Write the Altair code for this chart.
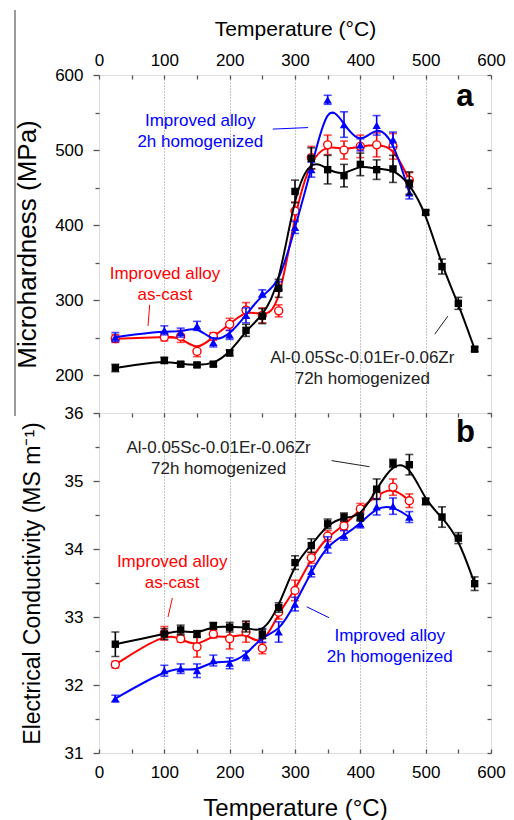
import altair as alt
import pandas as pd

FONT = "Liberation Sans"

# ---------------- data ----------------
T_imp = [25, 100, 125, 150, 175, 200, 225, 250, 275, 300, 325, 350, 375, 400, 425, 450, 475]
T_ref = T_imp + [500, 525, 550, 575]

# Microhardness (MPa)
hv_ref = [210, 220, 215, 214, 215, 230, 260, 279, 316, 445, 489, 474, 466, 481, 474, 475, 456, 417, 345, 296, 235]
hv_ref_err = [5, 4, 3, 3, 3, 4, 8, 10, 12, 15, 14, 19, 15, 15, 13, 18, 15, 3, 10, 8, 3]
hv_cast = [249, 251, 252, 232, 252, 268, 287, 280, 286, 419, 490, 507, 500, 505, 507, 505, 460]
hv_cast_err = [5, 5, 8, 7, 5, 8, 10, 10, 8, 12, 15, 13, 12, 15, 16, 17, 10]
hv_hom = [251, 260, 257, 266, 244, 254, 280, 309, 319, 397, 474, 567, 534, 507, 533, 514, 443]
hv_hom_err = [6, 6, 6, 6, 6, 6, 10, 5, 6, 8, 10, 6, 17, 8, 13, 10, 8]

# Electrical conductivity (MS/m)
ec_ref = [32.60, 32.75, 32.81, 32.75, 32.87, 32.85, 32.86, 32.75, 33.14, 33.80, 34.05, 34.37, 34.47, 34.47,
          34.88, 35.26, 35.24, 34.70, 34.47, 34.16, 33.49]
ec_ref_err = [0.18, 0.08, 0.07, 0.05, 0.05, 0.07, 0.08, 0.07, 0.07, 0.10, 0.10, 0.07, 0.06, 0.06,
              0.15, 0.06, 0.15, 0.05, 0.15, 0.08, 0.10]
ec_cast = [32.30, 32.76, 32.68, 32.56, 32.75, 32.68, 32.78, 32.54, 33.07, 33.39, 33.87, 34.19, 34.34, 34.59,
           34.79, 34.91, 34.71]
ec_cast_err = [0.05, 0.10, 0.05, 0.15, 0.06, 0.15, 0.15, 0.08, 0.10, 0.15, 0.08, 0.08, 0.06, 0.08, 0.06, 0.12, 0.10]
ec_hom = [31.80, 32.21, 32.24, 32.21, 32.36, 32.32, 32.43, 32.73, 32.78, 33.19, 33.67, 34.06, 34.20, 34.37,
          34.62, 34.63, 34.47]
ec_hom_err = [0.05, 0.08, 0.07, 0.10, 0.08, 0.08, 0.07, 0.10, 0.15, 0.10, 0.08, 0.12, 0.07, 0.06, 0.12, 0.12, 0.08]

x_ticks = [0, 50, 100, 150, 200, 250, 300, 350, 400, 450, 500, 550, 600]
hv_ticks = [200, 250, 300, 350, 400, 450, 500, 550, 600]
ec_ticks = [31, 31.5, 32, 32.5, 33, 33.5, 34, 34.5, 35, 35.5, 36]

lab_ref = "Al-0.05Sc-0.01Er-0.06Zr\n72h homogenized"
lab_cast = "Improved alloy\nas-cast"
lab_hom = "Improved alloy\n2h homogenized"

# annotation anchors (data units): label centre x, y ; leader x, x2, y, y2
top_ann = {
    "hom": (155, 539, 266, 320, 528, 530),
    "cast": (101, 335, 77.6, 75, 294, 266),
    "ref": (403, 223, 514, 534, 255, 279),
}
bot_ann = {
    "ref": (183, 35.48, 356, 414, 35.30, 35.21),
    "cast": (112, 33.81, 112.3, 105.6, 33.28, 33.0),
    "hom": (445, 32.72, 318, 352, 33.15, 32.99),
}
panel_letter_top = (560, 571, "a")
panel_letter_bot = (561, 35.70, "b")

# ---------------- styling ----------------
W = 392
H_TOP = 338
H_BOT = 340
XS = alt.Scale(domain=[0, 600], nice=False, zero=False)
YS_TOP = alt.Scale(domain=[150, 600], nice=False, zero=False)
YS_BOT = alt.Scale(domain=[31, 36], nice=False, zero=False)

RED, BLUE, BLACK = "#ff0000", "#0000ff", "#000000"
GRID_OPA = {"condition": {"test": "datum.value % 100 === 0 && datum.value > 0 && datum.value < 600", "value": 1}, "value": 0}


def x_main(orient, title, title_size, label_pad, title_pad):
    return alt.Axis(orient=orient, values=x_ticks, labelExpr="datum.value % 100 === 0 ? datum.label : ''",
                    ticks=False, domain=False, grid=True, gridDash=[1, 2], gridColor="#8c8c8c",
                    gridOpacity=GRID_OPA, labelPadding=label_pad, labelFlush=False, labelOverlap=False,
                    labelFont=FONT, labelFontSize=17, labelColor="black",
                    title=title, titleFont=FONT, titleFontSize=title_size, titleFontWeight="normal",
                    titleColor="black", titlePadding=title_pad)


def y_main(values, test, title, title_size, label_expr, title_pad):
    return alt.Axis(orient="left", values=values, labelExpr=label_expr,
                    tickSize={"condition": {"test": test, "value": 6}, "value": 4},
                    tickColor="#555555", tickWidth=1.3, domain=False, grid=False,
                    labelPadding=10, labelOverlap=False, labelFont=FONT, labelFontSize=17, labelColor="black",
                    title=title, titleFont=FONT, titleFontSize=title_size, titleFontWeight="normal",
                    titleColor="black", titlePadding=title_pad)


def mirror(orient, values):
    return alt.Axis(orient=orient, values=values, offset=-4, tickSize=4, tickColor="#555555", tickWidth=1.3,
                    labels=False, domain=False, grid=False, title=None)


def series_layers(T, v, e, kind, ys, xaxes, yaxes):
    df = pd.DataFrame({"T": T, "v": v, "lo": [a - b for a, b in zip(v, e)], "hi": [a + b for a, b in zip(v, e)]})
    base = alt.Chart(df)
    color = {"ref": BLACK, "cast": RED, "hom": BLUE}[kind]
    ax = lambda i, lst: lst[i] if i < len(lst) else None
    line = base.mark_line(interpolate="basis", color=color, strokeWidth=2).encode(
        x=alt.X("T:Q", scale=XS, axis=ax(0, xaxes)), y=alt.Y("v:Q", scale=ys, axis=ax(0, yaxes)))
    rule = base.mark_rule(color=color, strokeWidth=1.6).encode(
        x=alt.X("T:Q", scale=XS, axis=ax(1, xaxes)), y=alt.Y("lo:Q", scale=ys, axis=ax(1, yaxes)), y2="hi:Q")
    cap1 = base.mark_tick(color=color, orient="horizontal", size=8, thickness=1.6).encode(
        x=alt.X("T:Q", scale=XS, axis=ax(2, xaxes)), y=alt.Y("lo:Q", scale=ys, axis=ax(2, yaxes)))
    cap2 = base.mark_tick(color=color, orient="horizontal", size=8, thickness=1.6).encode(
        x=alt.X("T:Q", scale=XS, axis=None), y=alt.Y("hi:Q", scale=ys, axis=None))
    if kind == "ref":
        pt = base.mark_square(size=55, color=BLACK, opacity=1)
    elif kind == "cast":
        pt = base.mark_point(shape="circle", size=64, filled=False, stroke=RED, fill="white",
                             fillOpacity=1, strokeWidth=1.4, opacity=1)
    else:
        pt = base.mark_point(shape="triangle-up", size=70, filled=True, color=BLUE, opacity=1)
    pt = pt.encode(x=alt.X("T:Q", scale=XS, axis=None), y=alt.Y("v:Q", scale=ys, axis=None))
    return [line, rule, cap1, cap2, pt]


def ann_layers(ann, ys, labels):
    layers = []
    colors = {"ref": "#222222", "cast": RED, "hom": BLUE}
    for key, (cx, cy, lx1, lx2, ly1, ly2) in ann.items():
        col = colors[key]
        tdf = pd.DataFrame({"x": [cx], "y": [cy], "t": [labels[key]]})
        layers.append(alt.Chart(tdf).mark_text(font=FONT, fontSize=17, color=col, align="center",
                                               baseline="middle", lineBreak="\n", lineHeight=21).encode(
            x=alt.X("x:Q", scale=XS, axis=None), y=alt.Y("y:Q", scale=ys, axis=None), text="t:N"))
        ldf = pd.DataFrame({"x": [lx1], "x2": [lx2], "y": [ly1], "y2": [ly2]})
        layers.append(alt.Chart(ldf).mark_rule(color=col, strokeWidth=1).encode(
            x=alt.X("x:Q", scale=XS, axis=None), x2="x2:Q",
            y=alt.Y("y:Q", scale=ys, axis=None), y2="y2:Q"))
    return layers


def letter_layer(pos, ys):
    df = pd.DataFrame({"x": [pos[0]], "y": [pos[1]], "t": [pos[2]]})
    return alt.Chart(df).mark_text(font=FONT, fontSize=31, fontWeight="bold", color="black",
                                   align="center", baseline="middle").encode(
        x=alt.X("x:Q", scale=XS, axis=None), y=alt.Y("y:Q", scale=ys, axis=None), text="t:N")


labels = {"ref": lab_ref, "cast": lab_cast, "hom": lab_hom}

# ---------------- top panel ----------------
top_layers = []
top_layers += series_layers(T_imp, hv_cast, hv_cast_err, "cast", YS_TOP,
                            [x_main("top", "Temperature (°C)", 21, 6, 12), mirror("top", x_ticks)],
                            [y_main(hv_ticks, "datum.value % 100 === 0", "Microhardness (MPa)", 26,
                                    "datum.value % 100 === 0 ? datum.label : ''", 14),
                             mirror("right", hv_ticks)])
top_layers += series_layers(T_imp, hv_hom, hv_hom_err, "hom", YS_TOP, [], [])
top_layers += series_layers(T_ref, hv_ref, hv_ref_err, "ref", YS_TOP, [], [])
top_layers += ann_layers(top_ann, YS_TOP, labels)
top_layers.append(letter_layer(panel_letter_top, YS_TOP))
edge = alt.Chart(pd.DataFrame({"d": [0]})).mark_rule(color="#7a7a7a", strokeWidth=1.5).encode(
    x=alt.value(-84), y=alt.value(-65), y2=alt.value(341))
top_layers.append(edge)

top = alt.layer(*top_layers).properties(width=W, height=H_TOP).resolve_axis(x="independent", y="independent")

# ---------------- bottom panel ----------------
bot_layers = []
bot_layers += series_layers(T_imp, ec_cast, ec_cast_err, "cast", YS_BOT,
                            [x_main("bottom", "Temperature (°C)", 24, 11, 16), mirror("bottom", x_ticks),
                             mirror("top", x_ticks)],
                            [y_main(ec_ticks, "datum.value % 1 === 0", "Electrical Conductivity (MS m⁻¹)", 23,
                                    "datum.value % 1 === 0 ? format(datum.value, 'd') : ''", 20),
                             mirror("right", ec_ticks)])
bot_layers += series_layers(T_imp, ec_hom, ec_hom_err, "hom", YS_BOT, [], [])
bot_layers += series_layers(T_ref, ec_ref, ec_ref_err, "ref", YS_BOT, [], [])
bot_layers += ann_layers(bot_ann, YS_BOT, labels)
bot_layers.append(letter_layer(panel_letter_bot, YS_BOT))

bot = alt.layer(*bot_layers).properties(width=W, height=H_BOT).resolve_axis(x="independent", y="independent")

chart = alt.vconcat(top, bot, spacing=0, bounds="flush").resolve_scale(
    x="independent", y="independent").resolve_axis(x="independent", y="independent").properties(
    padding={"left": 13, "top": 8, "right": 5, "bottom": 0}
).configure_view(stroke="#3a3a3a", strokeWidth=1.4).configure(background="white")

chart.save("out.html", embed_options={"renderer": "svg", "actions": False})
